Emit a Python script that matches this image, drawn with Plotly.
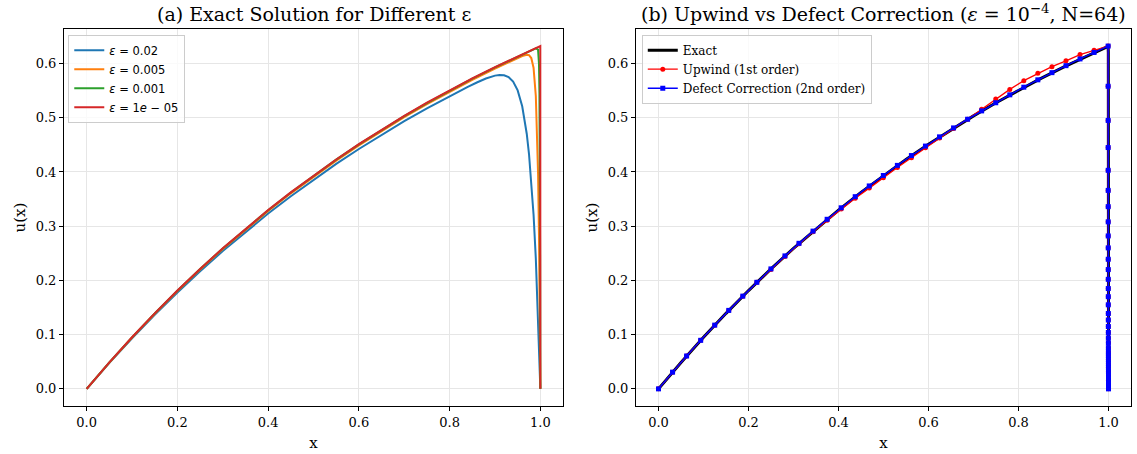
import plotly.graph_objects as go

# ---------------- data: panel (a) ----------------
x_eps_002 = [0, 0.05, 0.1, 0.15, 0.2, 0.25, 0.3, 0.35, 0.4, 0.45, 0.5, 0.55, 0.6, 0.65, 0.7, 0.75, 0.8,
             0.84, 0.86, 0.88, 0.9, 0.91, 0.92, 0.93, 0.94, 0.95,
             0.96, 0.965, 0.97, 0.975, 0.98, 0.985, 0.99, 0.995, 1.0]
u_eps_002 = [0, 0.04781, 0.09329, 0.13656, 0.17772, 0.21686, 0.25410, 0.28952, 0.32322, 0.35527, 0.38576,
             0.41476, 0.44234, 0.46858, 0.49354, 0.51729, 0.53984, 0.55694, 0.56496, 0.57221, 0.57762,
             0.57888, 0.57834, 0.57486, 0.56657, 0.55037, 0.52114, 0.49919, 0.47046, 0.43304, 0.38446,
             0.32154, 0.24022, 0.13528, 0]

x_eps_0005 = [0, 0.05, 0.1, 0.15, 0.2, 0.25, 0.3, 0.35, 0.4, 0.45, 0.5, 0.55, 0.6, 0.65, 0.7, 0.75, 0.8,
              0.85, 0.9, 0.95, 0.96, 0.97, 0.975, 0.98, 0.985, 0.99, 0.993, 0.995, 0.997, 0.999, 1.0]
u_eps_0005 = [0, 0.04853, 0.09469, 0.13860, 0.18037, 0.22010, 0.25789, 0.29384, 0.32804, 0.36057, 0.39151,
              0.42095, 0.44895, 0.47557, 0.50091, 0.52500, 0.54793, 0.56974, 0.59048, 0.61021, 0.61383,
              0.61627, 0.61547, 0.61006, 0.59213, 0.54017, 0.47130, 0.39575, 0.28269, 0.11365, 0]

x_eps_0001 = [0, 0.05, 0.1, 0.15, 0.2, 0.25, 0.3, 0.35, 0.4, 0.45, 0.5, 0.55, 0.6, 0.65, 0.7, 0.75, 0.8,
              0.85, 0.9, 0.95, 0.99, 0.995, 0.997, 0.998, 0.999, 0.9995, 1.0]
u_eps_0001 = [0, 0.04872, 0.09506, 0.13915, 0.18109, 0.22098, 0.25892, 0.29501, 0.32935, 0.36201, 0.39308,
              0.42263, 0.45074, 0.47747, 0.50291, 0.52710, 0.55012, 0.57202, 0.59284, 0.61265, 0.62779,
              0.62539, 0.59895, 0.54529, 0.39881, 0.24829, 0]

x_eps_1e5 = [0, 0.05, 0.1, 0.15, 0.2, 0.25, 0.3, 0.35, 0.4, 0.45, 0.5, 0.55, 0.6, 0.65, 0.7, 0.75, 0.8,
             0.85, 0.9, 0.95, 0.99, 0.9999, 1.0]
u_eps_1e5 = [0, 0.04877, 0.09516, 0.13929, 0.18127, 0.22120, 0.25918, 0.29531, 0.32968, 0.36237, 0.39347,
             0.42305, 0.45119, 0.47795, 0.50341, 0.52763, 0.55067, 0.57259, 0.59343, 0.61326, 0.62842,
             0.63208, 0]

labels_a = ["<i>ε</i> = 0.02", "<i>ε</i> = 0.005", "<i>ε</i> = 0.001", "<i>ε</i> = 1<i>e</i> − 05"]

# ---------------- data: panel (b) ----------------
x_exact = [0, 0.05, 0.1, 0.15, 0.2, 0.25, 0.3, 0.35, 0.4, 0.45, 0.5, 0.55, 0.6, 0.65, 0.7, 0.75, 0.8,
           0.85, 0.9, 0.95, 0.99, 0.9992, 0.9996, 0.9998, 0.9999, 1.0]
u_exact = [0, 0.04877, 0.09516, 0.13929, 0.18127, 0.22120, 0.25918, 0.29531, 0.32968, 0.36237, 0.39347,
           0.42305, 0.45119, 0.47795, 0.50341, 0.52763, 0.55067, 0.57259, 0.59343, 0.61326, 0.62842,
           0.63160, 0.62050, 0.54660, 0.39960, 0]

x_mesh_coarse = [0.0, 0.0312, 0.0624, 0.0937, 0.1249, 0.1561, 0.1873, 0.2185, 0.2498, 0.2810, 0.3122,
                 0.3434, 0.3747, 0.4059, 0.4371, 0.4683, 0.4996, 0.5308, 0.5620, 0.5932, 0.6245, 0.6557,
                 0.6869, 0.7181, 0.7494, 0.7806, 0.8118, 0.8430, 0.8743, 0.9055, 0.9367, 0.9679, 0.9992]
x_mesh_layer = [0.99920, 0.99923, 0.99925, 0.99928, 0.99930, 0.99933, 0.99935, 0.99938, 0.99941, 0.99943,
                0.99946, 0.99948, 0.99951, 0.99954, 0.99956, 0.99959, 0.99961, 0.99964, 0.99967, 0.99969,
                0.99972, 0.99974, 0.99977, 0.99979, 0.99982, 0.99985, 0.99987, 0.99990, 0.99992, 0.99995,
                0.99997, 1.00000]

u_upwind_coarse = [0.0, 0.0308, 0.0606, 0.0895, 0.1175, 0.1447, 0.1710, 0.1965, 0.2202, 0.2442, 0.2674,
                   0.2899, 0.3107, 0.3319, 0.3514, 0.3702, 0.3895, 0.4081, 0.4262, 0.4447, 0.4627, 0.4802,
                   0.4972, 0.5156, 0.5346, 0.5522, 0.5683, 0.5819, 0.5941, 0.6050, 0.6164, 0.6244, 0.6321]
u_defect_coarse = [0.0, 0.0308, 0.0606, 0.0895, 0.1175, 0.1447, 0.1710, 0.1965, 0.2212, 0.2452, 0.2684,
                   0.2909, 0.3127, 0.3339, 0.3544, 0.3742, 0.3935, 0.4121, 0.4302, 0.4477, 0.4647, 0.4812,
                   0.4972, 0.5126, 0.5276, 0.5422, 0.5563, 0.5699, 0.5831, 0.5960, 0.6084, 0.6204, 0.6321]
u_layer = [0.558, 0.495, 0.445, 0.403, 0.366, 0.336, 0.308, 0.282, 0.260, 0.239, 0.220, 0.202, 0.185,
           0.170, 0.155, 0.139, 0.127, 0.115, 0.104, 0.094, 0.085, 0.076, 0.068, 0.061, 0.054, 0.047,
           0.040, 0.032, 0.024, 0.016, 0.008, 0.0]

x_ticks = [0.0, 0.2, 0.4, 0.6, 0.8, 1.0]
y_ticks = [0.0, 0.1, 0.2, 0.3, 0.4, 0.5, 0.6]

# ---------------- figure ----------------
SERIF = "DejaVu Serif"
SANS = "DejaVu Sans"
tab_colors = ["#1f77b4", "#ff7f0e", "#2ca02c", "#d62728"]

fig = go.Figure()
curves_a = [(x_eps_002, u_eps_002), (x_eps_0005, u_eps_0005), (x_eps_0001, u_eps_0001), (x_eps_1e5, u_eps_1e5)]
for (xs, us), lab, col in zip(curves_a, labels_a, tab_colors):
    fig.add_trace(go.Scatter(x=xs, y=us, mode="lines", name=lab, line=dict(color=col, width=2),
                             xaxis="x", yaxis="y", legend="legend"))

fig.add_trace(go.Scatter(x=x_exact, y=u_exact, mode="lines", name="Exact",
                         line=dict(color="black", width=3), xaxis="x2", yaxis="y2", legend="legend2"))
fig.add_trace(go.Scatter(x=x_mesh_coarse + x_mesh_layer, y=u_upwind_coarse + u_layer, mode="lines+markers",
                         name="Upwind (1st order)", line=dict(color="#ff0000", width=1.3),
                         marker=dict(symbol="circle", size=5, color="#ff0000"),
                         xaxis="x2", yaxis="y2", legend="legend2"))
fig.add_trace(go.Scatter(x=x_mesh_coarse + x_mesh_layer, y=u_defect_coarse + u_layer, mode="lines+markers",
                         name="Defect Correction (2nd order)", line=dict(color="#0000ff", width=1.5),
                         marker=dict(symbol="square", size=5, color="#0000ff"),
                         xaxis="x2", yaxis="y2", legend="legend2"))

axis_common = dict(showline=True, linecolor="black", linewidth=1, mirror=True,
                   ticks="outside", ticklen=4, tickwidth=1, tickcolor="black",
                   showgrid=True, gridcolor="#e6e6e6", gridwidth=1, zeroline=False,
                   tickfont=dict(family=SERIF, size=13, color="black"))
xr = [-0.05, 1.05]
yr = [-0.0316, 0.6636]

fig.update_layout(
    width=1137, height=454,
    margin=dict(l=64, r=6, t=29, b=48),
    plot_bgcolor="white", paper_bgcolor="white",
    font=dict(family=SERIF, color="black"),
    xaxis=dict(domain=[0, 0.4677], range=xr, tickvals=x_ticks, ticktext=[f"{v:.1f}" for v in x_ticks],
               title=dict(text="x", font=dict(family=SERIF, size=15), standoff=8), anchor="y", **axis_common),
    yaxis=dict(domain=[0, 1], range=yr, tickvals=y_ticks, ticktext=[f"{v:.1f}" for v in y_ticks],
               title=dict(text="u(x)", font=dict(family=SERIF, size=15), standoff=6), anchor="x", **axis_common),
    xaxis2=dict(domain=[0.5361, 1], range=xr, tickvals=x_ticks, ticktext=[f"{v:.1f}" for v in x_ticks],
                title=dict(text="x", font=dict(family=SERIF, size=15), standoff=8), anchor="y2", **axis_common),
    yaxis2=dict(domain=[0, 1], range=yr, tickvals=y_ticks, ticktext=[f"{v:.1f}" for v in y_ticks],
                title=dict(text="u(x)", font=dict(family=SERIF, size=15), standoff=6), anchor="x2", **axis_common),
    legend=dict(x=0.004, y=0.985, xanchor="left", yanchor="top", bgcolor="rgba(255,255,255,0.8)",
                bordercolor="#cccccc", borderwidth=1, font=dict(family=SANS, size=11.5),
                itemwidth=30, tracegroupgap=0),
    legend2=dict(x=0.5415, y=0.985, xanchor="left", yanchor="top", bgcolor="rgba(255,255,255,0.8)",
                 bordercolor="#cccccc", borderwidth=1, font=dict(family=SERIF, size=12),
                 itemwidth=30, tracegroupgap=0),
    annotations=[
        dict(text="(a) Exact Solution for Different ε", x=0.4677 / 2, y=1, xref="paper", yref="paper",
             xanchor="center", yanchor="bottom", yshift=2, showarrow=False,
             font=dict(family=SERIF, size=19, color="black")),
        dict(text="(b) Upwind vs Defect Correction (<i>ε</i> = 10<sup>−4</sup>, N=64)", x=(0.5361 + 1) / 2,
             y=1, xref="paper", yref="paper", xanchor="center", yanchor="bottom", yshift=2, showarrow=False,
             font=dict(family=SERIF, size=19, color="black")),
    ],
)

fig.write_html("out.html")
